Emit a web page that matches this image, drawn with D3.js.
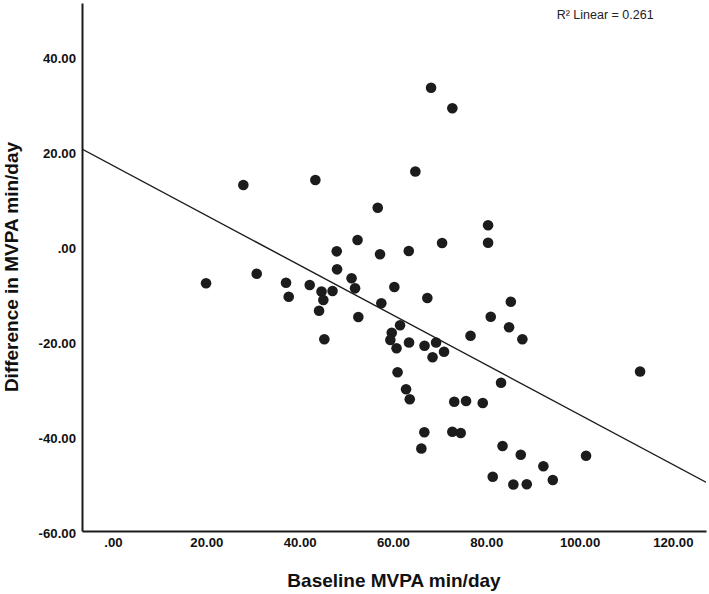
<!DOCTYPE html>
<html>
<head>
<meta charset="utf-8">
<script src="https://cdn.jsdelivr.net/npm/d3@7"></script>
<style>
  html, body { margin: 0; padding: 0; background: #ffffff; }
  svg { display: block; }
</style>
</head>
<body>
<svg id="chart" width="709" height="594"></svg>
<script>
// ---- data ----
const baselineMVPA = [
  19.94, 27.93, 30.80, 37.08, 37.66, 42.16, 43.37, 44.69, 47.05, 45.08,
  44.16, 45.29, 47.95, 48.02, 51.13, 51.88, 52.41, 52.58, 56.74, 57.23,
  57.51, 60.30, 63.39, 64.80, 67.37, 68.17, 72.73, 70.53, 80.39, 80.39,
  85.27, 80.96, 84.89, 87.74, 76.63, 61.52, 59.74, 59.44, 60.77, 63.45,
  66.77, 69.24, 70.95, 68.49, 60.99, 62.81, 63.60, 73.14, 75.67, 79.25,
  83.17, 112.97, 66.73, 66.09, 72.73, 74.53, 83.49, 87.40, 92.24, 94.26,
  81.39, 85.81, 88.68, 101.39
];
const differenceMVPA = [
  -7.85, 12.84, -5.83, -7.73, -10.67, -8.21, 13.89, -9.58, -9.47, -11.37,
  -13.62, -19.64, -1.12, -4.91, -6.80, -8.91, 1.26, -14.95, 8.06, -1.75,
  -12.06, -8.63, -1.05, 15.68, -10.95, 33.33, 28.99, 0.63, 4.38, 0.67,
  -11.73, -14.88, -17.12, -19.62, -18.88, -16.69, -18.25, -19.79, -21.54, -20.32,
  -20.99, -20.32, -22.25, -23.43, -26.59, -30.17, -32.27, -32.78, -32.63, -33.05,
  -28.78, -26.42, -39.22, -42.63, -39.09, -39.37, -42.11, -43.94, -46.38, -49.26,
  -48.57, -50.21, -50.17, -44.17
];
const fitCoefficients = [16.93, -0.5245];   // intercept, slope of linear fit
const xDomain = [-6.65, 127.1];
const yDomain = [-60, 51.16];
const xTicks = [0, 20, 40, 60, 80, 100, 120];
const yTicks = [-60, -40, -20, 0, 40, 20];
const xTitle = "Baseline MVPA min/day";
const yTitle = "Difference in MVPA min/day";
const fitLabel = "R\u00B2 Linear = 0.261";

// ---- drawing ----
(function () {
const svg = d3.select("#chart");
const pLeft = 82, pRight = 706, pTop = 3, pBottom = 531;
const FONT = "Arial, 'Liberation Sans', Helvetica, sans-serif";

const x = d3.scaleLinear().domain(xDomain).range([pLeft, pRight]);
const y = d3.scaleLinear().domain(yDomain).range([pBottom, pTop]);

const spssFmt = v => {
  const s = Math.abs(v).toFixed(2).replace(/^0\./, ".");
  return (v < 0 ? "-" : "") + s;
};

// axes
const gx = svg.append("g")
  .attr("transform", `translate(0,${pBottom})`)
  .call(d3.axisBottom(x).tickValues(xTicks).tickFormat(spssFmt)
        .tickSizeInner(0).tickSizeOuter(0).tickPadding(0));
gx.select(".domain").attr("stroke", "#1a1a1a").attr("stroke-width", 2);
gx.selectAll("text")
  .attr("y", 15.6).attr("dy", 0)
  .attr("font-family", FONT).attr("font-size", 13.2).attr("font-weight", "bold")
  .attr("fill", "#111");

const gy = svg.append("g")
  .attr("transform", `translate(${pLeft},0)`)
  .call(d3.axisLeft(y).tickValues(yTicks).tickFormat(spssFmt)
        .tickSizeInner(0).tickSizeOuter(0).tickPadding(6));
gy.select(".domain").attr("stroke", "#1a1a1a").attr("stroke-width", 2);
gy.selectAll("text")
  .attr("dy", 6.6).attr("x", -6)
  .attr("font-family", FONT).attr("font-size", 13.2).attr("font-weight", "bold")
  .attr("fill", "#111");

// clip for fit line
svg.append("clipPath").attr("id", "plotclip")
  .append("rect").attr("x", pLeft).attr("y", pTop)
  .attr("width", pRight - pLeft).attr("height", pBottom - pTop);

// fit line
const fit = v => fitCoefficients[0] + fitCoefficients[1] * v;
svg.append("line")
  .attr("clip-path", "url(#plotclip)")
  .attr("x1", x(xDomain[0])).attr("y1", y(fit(xDomain[0])))
  .attr("x2", x(xDomain[1])).attr("y2", y(fit(xDomain[1])))
  .attr("stroke", "#1a1a1a").attr("stroke-width", 1.4);

// points
svg.append("g").selectAll("circle")
  .data(baselineMVPA.map((v, i) => [v, differenceMVPA[i]]))
  .join("circle")
  .attr("cx", d => x(d[0]))
  .attr("cy", d => y(d[1]))
  .attr("r", 5.3)
  .attr("fill", "#1c1c1c");

// titles
svg.append("text")
  .attr("x", 394).attr("y", 587)
  .attr("text-anchor", "middle")
  .attr("font-family", FONT).attr("font-size", 19).attr("font-weight", "bold")
  .attr("fill", "#111")
  .text(xTitle);

svg.append("text")
  .attr("transform", "translate(18,267) rotate(-90)")
  .attr("text-anchor", "middle")
  .attr("font-family", FONT).attr("font-size", 19).attr("font-weight", "bold")
  .attr("fill", "#111")
  .text(yTitle);

svg.append("text")
  .attr("x", 556.7).attr("y", 19)
  .attr("font-family", FONT).attr("font-size", 12.5)
  .attr("fill", "#222")
  .text(fitLabel);
})();
</script>
</body>
</html>
